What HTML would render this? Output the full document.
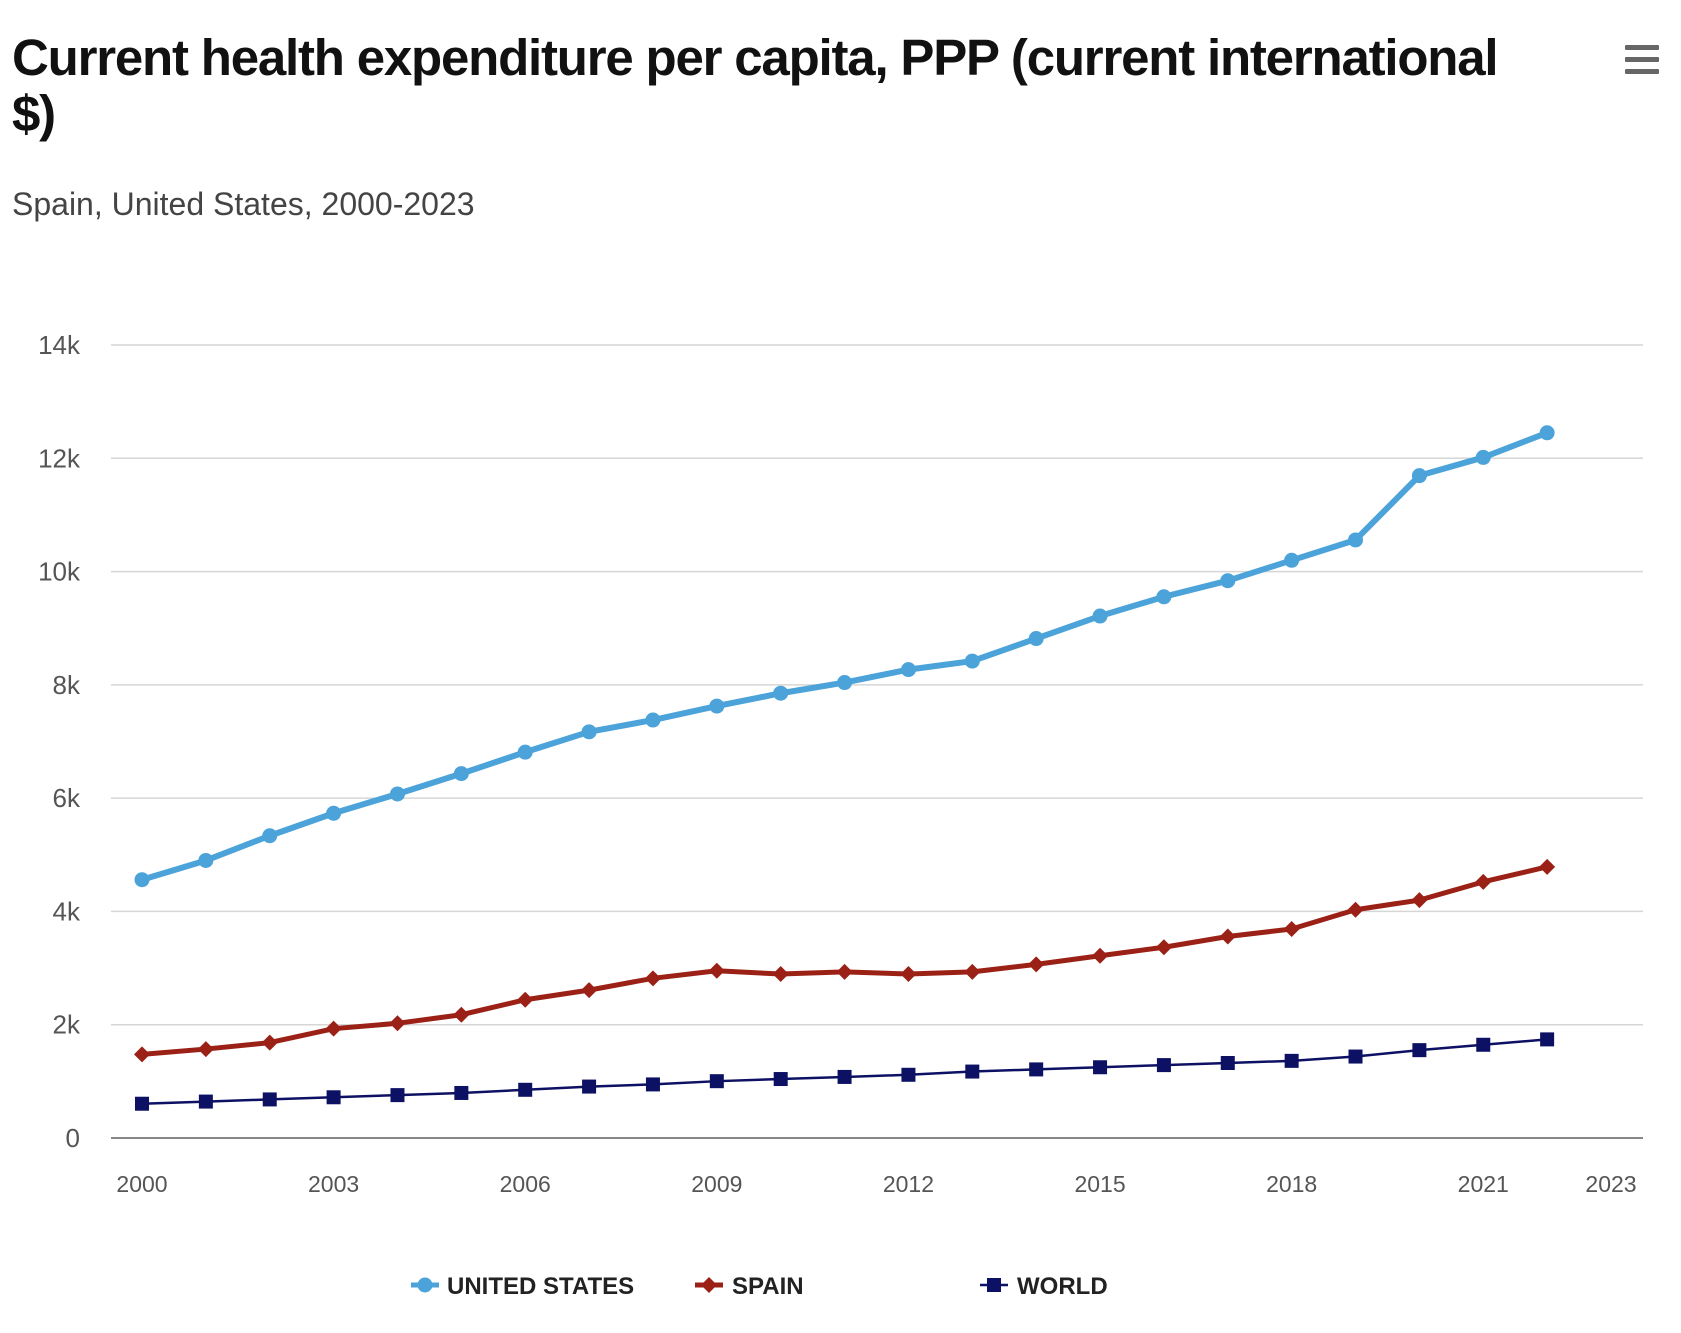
<!DOCTYPE html>
<html><head><meta charset="utf-8">
<style>
html,body{margin:0;padding:0;background:#fff;}
body{width:1681px;height:1333px;position:relative;overflow:hidden;font-family:"Liberation Sans",sans-serif;}
#title{position:absolute;left:12px;top:30px;width:1580px;font-weight:bold;font-size:51px;line-height:56px;color:#111;letter-spacing:-1.2px;margin:0;}
#subtitle{position:absolute;left:12px;top:186px;font-size:32px;color:#444;}
#menu{position:absolute;left:1625px;top:45px;width:34px;height:30px;}
#menu div{height:5px;background:#666;margin-bottom:7px;border-radius:1px;}
svg{position:absolute;left:0;top:0;}
</style></head><body>
<h1 id="title">Current health expenditure per capita, PPP (current international<br>$)</h1>
<div id="subtitle">Spain, United States, 2000-2023</div>
<div id="menu"><div></div><div></div><div></div></div>
<svg id="chart" width="1681" height="1333"></svg>
<script>
const years=[2000,2001,2002,2003,2004,2005,2006,2007,2008,2009,2010,2011,2012,2013,2014,2015,2016,2017,2018,2019,2020,2021,2022];
const usValues=[4560,4900,5336,5733,6074,6433,6812,7171,7379,7625,7852,8041,8269,8420,8818,9215,9555,9839,10199,10558,11693,12015,12450];
const spainValues=[1476,1570,1684,1930,2025,2176,2441,2611,2819,2952,2895,2933,2895,2933,3065,3217,3368,3557,3690,4030,4200,4522,4787];
const worldValues=[605,643,681,719,757,795,851,908,946,1003,1041,1078,1116,1173,1211,1249,1287,1324,1362,1438,1551,1646,1741];
const yTicks=[0,2000,4000,6000,8000,10000,12000,14000];
const yTickLabels=["0","2k","4k","6k","8k","10k","12k","14k"];
const xTicks=[2000,2003,2006,2009,2012,2015,2018,2021,2023];

const NS="http://www.w3.org/2000/svg";
const svg=document.getElementById('chart');
const L=111,R=1643,Y0=1138,Y14=345;
const x=yr=>142+(yr-2000)*(1611-142)/23;
const y=v=>Y0-(v/14000)*(Y0-Y14);
function mk(tag,attrs,parent){const e=document.createElementNS(NS,tag);for(const k in attrs)e.setAttribute(k,attrs[k]);(parent||svg).appendChild(e);return e;}

yTicks.forEach((t,i)=>{
  const g=mk('line',{x1:L,x2:R,y1:y(t),y2:y(t),stroke:t===0?'#888':'#d6d6d6','stroke-width':t===0?2:1.5});
  
  
  const tx=mk('text',{x:80,y:y(t)+9,'text-anchor':'end','font-size':26,fill:'#555','font-family':'Liberation Sans, sans-serif'});
  tx.textContent=yTickLabels[i];
  
  
});
xTicks.forEach(t=>{
  const tx=mk('text',{x:x(t),y:1192,'text-anchor':'middle','font-size':23,fill:'#555','font-family':'Liberation Sans, sans-serif'});
  tx.textContent=t;
  
  
});

function series(vals,color,w,marker,name){
  const g=mk('g',{});
  
  
  const pts=vals.map((v,i)=>x(years[i])+','+y(v)).join(' ');
  const pl=mk('polyline',{points:pts,fill:'none',stroke:color,'stroke-width':w,'stroke-linejoin':'round'},g);
  
  
  vals.forEach((v,i)=>{
    const m=drawMarker(marker,x(years[i]),y(v),color,g);
    
    
  });
}
function drawMarker(type,cx,cy,color,g){
  if(type==='circle')return mk('circle',{cx:cx,cy:cy,r:7.5,fill:color},g);
  if(type==='diamond')return mk('polygon',{points:`${cx},${cy-8} ${cx+8},${cy} ${cx},${cy+8} ${cx-8},${cy}`,fill:color},g);
  return mk('rect',{x:cx-7,y:cy-7,width:14,height:14,fill:color},g);
}
series(worldValues,'#0d1163',2.5,'square','world');
series(spainValues,'#9b2116',5,'diamond','spain');
series(usValues,'#4ba3d9',6,'circle','united-states');

const legend=[['UNITED STATES','#4ba3d9','circle',425,447],['SPAIN','#9b2116','diamond',709,732],['WORLD','#0d1163','square',994,1017]];
legend.forEach(([label,c,m,mx,tx])=>{
  const g=mk('g',{});
  
  
  mk('line',{x1:mx-14,x2:mx+14,y1:1285,y2:1285,stroke:c,'stroke-width':m==='square'?2.5:5},g);
  drawMarker(m,mx,1285,c,g);
  const t=mk('text',{x:tx,y:1294,'font-size':24,'font-weight':'bold',fill:'#222','font-family':'Liberation Sans, sans-serif'},g);
  t.textContent=label;
});
</script>
</body></html>
